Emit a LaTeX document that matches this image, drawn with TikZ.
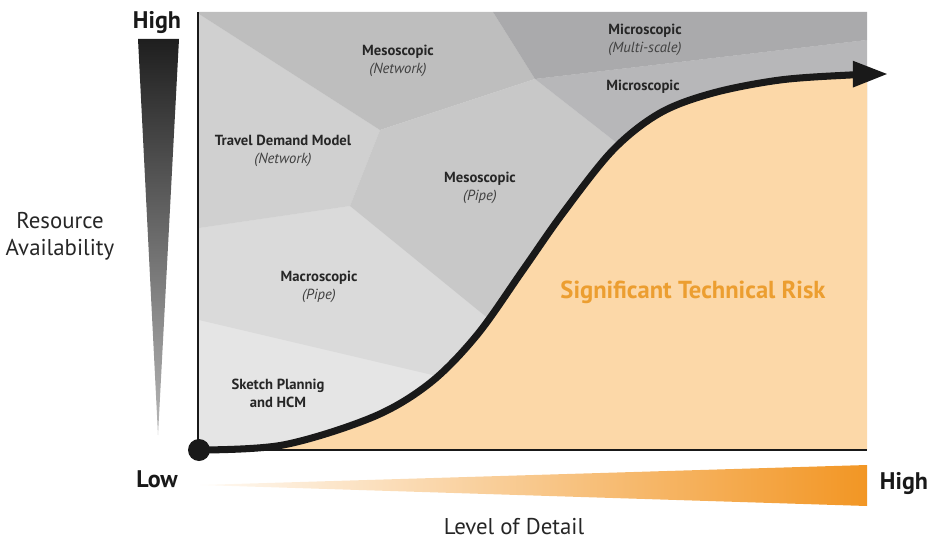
\documentclass[tikz,border=0pt]{standalone}
\usepackage{fontspec}
\setmainfont{PT Sans}
\usetikzlibrary{arrows.meta,positioning}

\definecolor{sketchgray}{RGB}{229,229,229}
\definecolor{macrogray}{RGB}{218,218,218}
\definecolor{tdmgray}{RGB}{208,208,208}
\definecolor{pipegray}{RGB}{200,200,200}
\definecolor{netgray}{RGB}{190,190,190}
\definecolor{microgray}{RGB}{183,183,185}
\definecolor{multigray}{RGB}{170,170,172}
\definecolor{riskfill}{RGB}{252,216,168}
\definecolor{risktext}{RGB}{236,158,48}
\definecolor{barorange}{RGB}{242,150,36}

\begin{document}
\begin{tikzpicture}[
    x=0.03cm, y=-0.03cm,
    every node/.style={font=\fontsize{12.5}{15.5}\selectfont},
    zone/.style={align=center, text=black!85, font=\fontsize{12.5}{15.5}\selectfont\bfseries},
    axislabel/.style={text=black!85, align=center, font=\fontsize{19.5}{23}\selectfont},
    endlabel/.style={text=black!90, font=\fontsize{20.5}{24}\selectfont\bfseries},
    axis/.style={line width=1pt, black!90},
    riskline/.style={-{Triangle[length=30pt,width=21pt]}, line width=6pt, black!90, line join=round}
]
\useasboundingbox (0,0) rectangle (934,541);

% zones
\fill[sketchgray] (199,12) rectangle (867,450);
\fill[macrogray] (199,228) -- (350,206) -- (560,377) -- (560,405) -- (199,320) -- cycle;
\fill[tdmgray] (199,14) -- (380,130) -- (350,206) -- (199,228) -- cycle;
\fill[netgray] (199,12) -- (493,12) -- (535,79) -- (380,130) -- (199,14) -- cycle;
\fill[pipegray] (380,130) -- (535,79) -- (700,208) -- (560,377) -- (350,206) -- cycle;
\fill[microgray] (535,79) -- (867,40) -- (867,300) -- (700,208) -- cycle;
\fill[multigray] (493,12) -- (867,12) -- (867,40) -- (535,79) -- cycle;

\begin{scope}
\clip (199,12) rectangle (867,450);
\fill[riskfill] plot[smooth, tension=0.55] coordinates {(199,450) (283,445) (373,417) (430,383) (477,335) (523,270) (563,213) (613,150) (660,113) (713,93) (780,80) (850,75) (888,74)} -- (888,450) -- cycle;
\end{scope}

\draw[axis] (198,12) -- (198,450) -- (867,450);

\node[circle, fill=black!90, inner sep=0pt, minimum size=0.66cm] (origin) at (199,450) {};
\draw[riskline] plot[smooth, tension=0.55] coordinates {(origin.center) (283,445) (373,417) (430,383) (477,335) (523,270) (563,213) (613,150) (660,113) (713,93) (780,80) (850,75) (888,74)};

% labels
\node[zone] (mesonet) at (398,61) {Mesoscopic\\{\mdseries\itshape\color{black!75}(Network)}};
\node[zone] (tdm) at (283,151) {Travel Demand Model\\{\mdseries\itshape\color{black!75}(Network)}};
\node[zone] (mesopipe) at (480,188) {Mesoscopic\\{\mdseries\itshape\color{black!75}(Pipe)}};
\node[zone] (multi) at (645,40) {Microscopic\\{\mdseries\itshape\color{black!75}(Multi-scale)}};
\node[zone] (micro) at (643,87) {Microscopic};
\node[zone] (macro) at (319,287) {Macroscopic\\{\mdseries\itshape\color{black!75}(Pipe)}};
\node[zone] (sketch) at (278,393) {Sketch Plannig\\and HCM};
\node[text=risktext, font=\fontsize{21}{25}\selectfont\bfseries] (risk) at (693,292) {Significant Technical Risk};

% resource scale
\shade[top color=black!88, middle color=black!30, bottom color=black!28] (138,39) -- (179,39) -- (158,435) -- cycle;
\node[endlabel] (resourcehigh) at (157,23) {High};
\node[endlabel] (resourcelow) at (157,479) {Low};
\node[axislabel] (resource) at (60,236) {Resource\\Availability};

% detail scale
\shade[left color=barorange!5, right color=barorange] (200,485) -- (867,465) -- (867,506) -- cycle;
\node[endlabel] (detailhigh) at (904,484) {High};
\node[axislabel] (detail) at (514,527) {Level of Detail};
\end{tikzpicture}
\end{document}
